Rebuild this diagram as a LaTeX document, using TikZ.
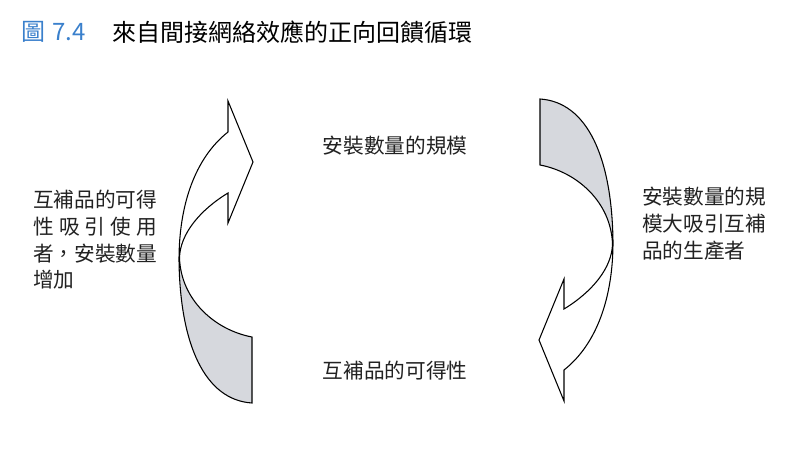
\documentclass[tikz,border=0pt]{standalone}
\usepackage{fontspec}
\setmainfont{Noto Sans CJK TC}
\definecolor{figblue}{RGB}{58,128,204}
\definecolor{ribbongray}{RGB}{214,216,221}
\definecolor{inkgray}{RGB}{34,34,34}
\newcommand\ribbonpath{(228,101) -- (253,162) -- (228,223) -- (228,193)
  .. controls (200,210) and (180,234) .. (179.5,258)
  .. controls (181,300) and (215,330) .. (252,337) -- (252,403)
  .. controls (205,400) and (180,345) .. (179,260)
  .. controls (179,205) and (195,158) .. (228,132) -- cycle}
\newcommand\drawribbon{%
  \fill[white] \ribbonpath;
  \begin{scope}
    \clip (0,258) rectangle (400,460);
    \fill[ribbongray] \ribbonpath;
  \end{scope}
  \draw[outline] \ribbonpath;
}
\tikzset{
  lbl/.style={inner sep=0pt, text=inkgray, font=\fontsize{15.5pt}{20pt}\selectfont},
  outline/.style={draw=black, line width=0.8pt, line join=miter}
}
\begin{document}
\begin{tikzpicture}[x=0.75pt,y=-0.75pt]
\useasboundingbox[fill=white] (0,0) rectangle (800,450);
% title
\node[inner sep=0pt, anchor=west, text=figblue, font=\fontsize{18pt}{22pt}\selectfont] (fignum) at (21,32) {圖\hspace{0.3em}7.4};
\node[inner sep=0pt, anchor=west, text=black, font=\fontsize{18pt}{22pt}\selectfont] (title) at (112,32) {來自間接網絡效應的正向回饋循環};
% ribbons
\begin{scope}
\drawribbon
\end{scope}
\begin{scope}[rotate around={180:(396,251)}]
\drawribbon
\end{scope}
% center labels
\node[lbl] (scale) at (395,146) {安裝數量的規模};
\node[lbl] (avail) at (395,371) {互補品的可得性};
% side labels
\node[lbl, anchor=north west, align=left] (lefttext) at (33,190) {互補品的可得\\
\hbox to 6em{性\hfill 吸\hfill 引\hfill 使\hfill 用}\\
者，安裝數量\\
增加};
\node[lbl, anchor=north west, align=left] (righttext) at (642,187) {安裝數量的規\\
模大吸引互補\\
品的生產者};
\end{tikzpicture}
\end{document}
